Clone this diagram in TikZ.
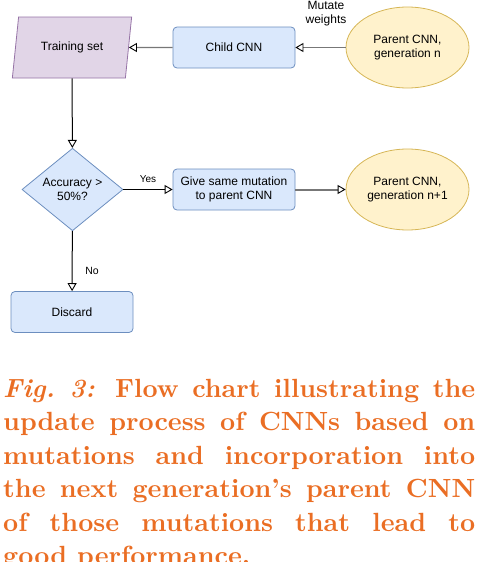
\documentclass[tikz,border=0pt]{standalone}
\usepackage[rgb]{xcolor}
\usepackage{fontspec}
\newfontfamily\chartfont{Liberation Sans}
\newfontfamily\capfont{lmroman10-bold.otf}[BoldFont=lmroman10-bold.otf, BoldItalicFont=lmroman10-bolditalic.otf, ItalicFont=lmroman10-bolditalic.otf, Ligatures=TeX]
\usetikzlibrary{shapes.geometric,arrows.meta}

\definecolor{setfill}{HTML}{E1D5E7}
\definecolor{setdraw}{HTML}{9673A6}
\definecolor{boxfill}{HTML}{DAE8FC}
\definecolor{boxdraw}{HTML}{6C8EBF}
\definecolor{cnnfill}{HTML}{FFF2CC}
\definecolor{cnndraw}{HTML}{D6B656}
\definecolor{linegrey}{HTML}{777777}
\definecolor{capcolor}{RGB}{234,110,36}

\tikzset{
    chartnode/.style={font=\chartfont\fontsize{12}{14.5}\selectfont, align=center, line width=0.8pt},
    process/.style={chartnode, draw=boxdraw, fill=boxfill, rounded corners=4pt,
        minimum width=122pt, minimum height=41pt, inner sep=0pt},
    dataset/.style={chartnode, draw=setdraw, fill=setfill, trapezium,
        trapezium left angle=72, trapezium right angle=108, trapezium stretches=true,
        minimum width=120pt, minimum height=61pt, inner sep=0pt},
    decision/.style={chartnode, draw=boxdraw, fill=boxfill, diamond,
        minimum width=101pt, minimum height=81pt, inner sep=0pt},
    parent/.style={chartnode, draw=cnndraw, fill=cnnfill, ellipse,
        minimum width=123pt, minimum height=81pt, inner sep=0pt},
    opentip/.tip={Triangle[color=black, fill=white, length=8pt, width=9pt, line width=0.9pt]},
    flow/.style={draw=black, line width=1pt, -opentip},
    greyflow/.style={draw=linegrey, line width=1.3pt, -opentip},
    edgetext/.style={font=\chartfont\fontsize{10.5}{13}\selectfont, align=center},
}

\begin{document}
\begin{tikzpicture}[x=1pt, y=-1pt]
    \clip (0,0) rectangle (478,562);

    \node[dataset] (trainset) at (72,47.5) {Training set};
    \node[process] (child) at (234,47.5) {Child CNN};
    \node[parent] (parentn) at (407.5,47.5) {Parent CNN,\\generation n};

    \node[decision] (accuracy) at (72.5,189.5) {Accuracy >\\50\%?};
    \node[process] (givesame) at (234,189.5) {Give same mutation\\to parent CNN};
    \node[parent] (parentnext) at (407.5,189.5) {Parent CNN,\\generation n+1};

    \node[process] (discard) at (72,312) {Discard};

    % edge labels
    \node[edgetext, font=\chartfont\fontsize{12}{14}\selectfont] (mutlabel) at (326,13.5) {Mutate\\weights};
    \node[edgetext, font=\chartfont\fontsize{10}{12}\selectfont] (yeslabel) at (148,179) {Yes};
    \node[edgetext] (nolabel) at (92,271) {No};

    \draw[greyflow] (parentn) -- (child);
    \draw[greyflow] (child) -- (trainset);
    \draw[flow] (trainset) -- (accuracy);
    \draw[flow, line width=1.6pt] (accuracy) -- (givesame);
    \draw[greyflow, line width=2pt] (givesame) -- (parentnext);
    \draw[flow] (accuracy) -- (discard);

    % caption
    \node[anchor=base west, text width=472pt, align=justify, inner sep=0pt,
          text=capcolor, font=\capfont\bfseries\fontsize{26.3}{33.5}\selectfont] (caption) at (3,397)
        {{\itshape Fig.~3:} Flow chart illustrating the\linebreak
         update process of CNNs based on\linebreak
         mutations and incorporation into\linebreak
         the next generation's parent CNN\linebreak
         of those mutations that lead to\linebreak
         good performance.};
\end{tikzpicture}
\end{document}
